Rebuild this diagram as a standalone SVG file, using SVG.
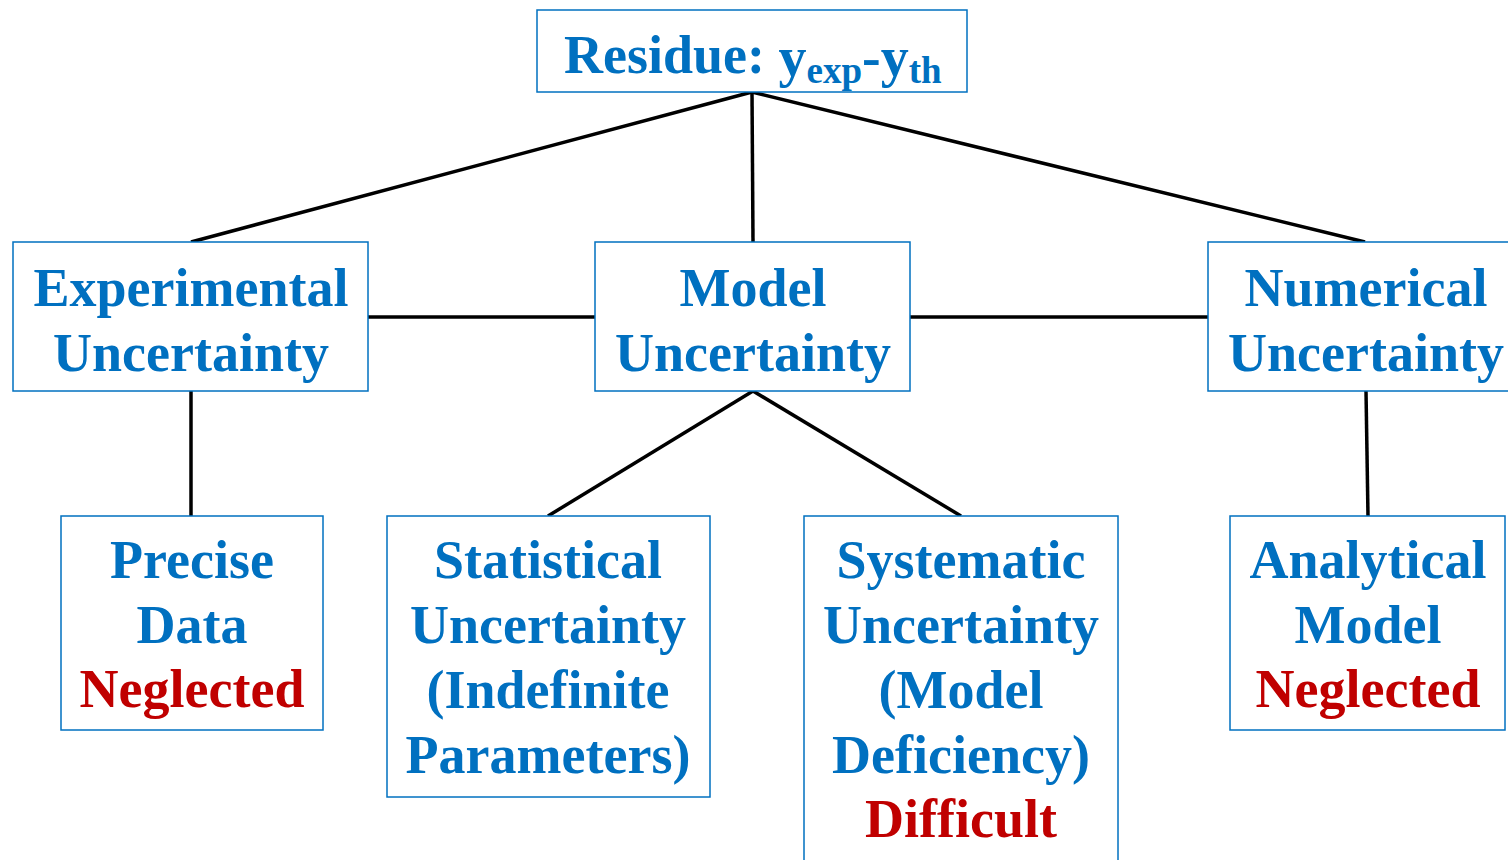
<svg xmlns="http://www.w3.org/2000/svg" width="1508" height="860" viewBox="0 0 1508 860">
<style>
.box{fill:#fff;stroke:#0070C0;stroke-width:1.5}
.t{font-family:"Liberation Serif","Times New Roman",serif;font-weight:bold;font-size:54px;fill:#0070C0;text-anchor:middle}
.r{fill:#C00000}
.c{stroke:#000;stroke-width:3.5;fill:none}
</style>
<rect width="1508" height="860" fill="#fff"/>
<g id="connectors">
<line class="c" x1="752" y1="92" x2="191" y2="242"/>
<line class="c" x1="752" y1="92" x2="753" y2="242"/>
<line class="c" x1="752" y1="92" x2="1365" y2="242"/>
<line class="c" x1="368" y1="317" x2="595" y2="317"/>
<line class="c" x1="910" y1="317" x2="1208" y2="317"/>
<line class="c" x1="191" y1="391" x2="191" y2="516"/>
<line class="c" x1="753" y1="391" x2="548" y2="516"/>
<line class="c" x1="753" y1="391" x2="961" y2="516"/>
<line class="c" x1="1366" y1="391" x2="1368" y2="516"/>
</g>
<g id="residue">
<rect class="box" x="537" y="10" width="430" height="82"/>
<text class="t" x="564" y="73" style="text-anchor:start">Residue: <tspan dy="3" font-size="56">y</tspan><tspan dy="7" font-size="37">exp</tspan><tspan dy="-7" font-size="56">-y</tspan><tspan dy="7" font-size="37">th</tspan></text>
</g>
<g id="experimental">
<rect class="box" x="13" y="242" width="355" height="149"/>
<text class="t" x="191" y="306">Experimental</text>
<text class="t" x="191" y="371">Uncertainty</text>
</g>
<g id="model">
<rect class="box" x="595" y="242" width="315" height="149"/>
<text class="t" x="753" y="306">Model</text>
<text class="t" x="753" y="371">Uncertainty</text>
</g>
<g id="numerical">
<rect class="box" x="1208" y="242" width="305" height="149"/>
<text class="t" x="1366" y="306">Numerical</text>
<text class="t" x="1366" y="371">Uncertainty</text>
</g>
<g id="precise">
<rect class="box" x="61" y="516" width="262" height="214"/>
<text class="t" x="192" y="578">Precise</text>
<text class="t" x="192" y="643">Data</text>
<text class="t r" x="192" y="707">Neglected</text>
</g>
<g id="statistical">
<rect class="box" x="387" y="516" width="323" height="281"/>
<text class="t" x="548" y="578">Statistical</text>
<text class="t" x="548" y="643">Uncertainty</text>
<text class="t" x="548" y="708">(Indefinite</text>
<text class="t" x="548" y="773">Parameters)</text>
</g>
<g id="systematic">
<rect class="box" x="804" y="516" width="314" height="360"/>
<text class="t" x="961" y="578">Systematic</text>
<text class="t" x="961" y="643">Uncertainty</text>
<text class="t" x="961" y="708">(Model</text>
<text class="t" x="961" y="773">Deficiency)</text>
<text class="t r" x="961" y="837">Difficult</text>
</g>
<g id="analytical">
<rect class="box" x="1230" y="516" width="275" height="214"/>
<text class="t" x="1368" y="578">Analytical</text>
<text class="t" x="1368" y="643">Model</text>
<text class="t r" x="1368" y="707">Neglected</text>
</g>
</svg>
